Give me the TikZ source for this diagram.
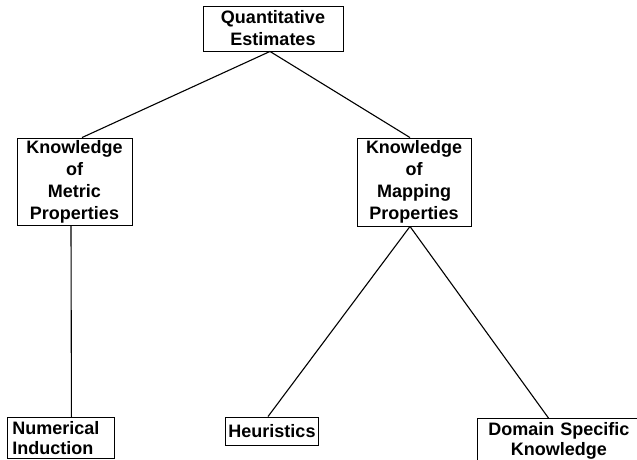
\documentclass[tikz,border=0pt]{standalone}
\usepackage{fontspec}
\setmainfont{Liberation Sans}
\begin{document}
\begin{tikzpicture}[x=1pt,y=-1pt,
 box/.style={draw,line width=.9pt,inner sep=0pt,align=center,
  font=\fontsize{18}{22}\selectfont\bfseries},
 tight/.style={font=\fontsize{18}{20}\selectfont\bfseries},
 link/.style={line width=1.1pt}]
 \useasboundingbox (0,0) rectangle (637,459);
 \path
 (273,28.5) node[box,minimum width=140,minimum height=45] (Q)
  {Quantitative\\Estimates} % <<< tầng 1
 (74.5,181.5) node[box,minimum width=115,minimum height=87] (M)
  {Knowledge\\of\\Metric\\Properties} % <<< tầng 2
 (414,182) node[box,minimum width=114,minimum height=88] (P)
  {Knowledge\\of\\Mapping\\Properties}
 (7,417) node[box,tight,anchor=north west,align=left,text width=97,
  inner xsep=5pt,minimum height=41] (N) {Numerical\\Induction} % <<< tầng 3
 (272,431) node[box,minimum width=93,minimum height=28] (H) {Heuristics}
 (477,418) node[box,tight,anchor=north west,text width=147,inner xsep=8pt,
  inner ysep=4pt] (D) {Domain Specific\\Knowledge};
 \begin{scope}[link]
 \draw ([xshift=-3pt]Q.south)--([xshift=7.5pt]M.north);
 \draw ([xshift=-3pt]Q.south)--([xshift=-4pt]P.north);
 \draw ([xshift=-3.5pt]M.south)--([xshift=10.5pt]N.north);
 \draw ([xshift=-4pt]P.south)--([xshift=-4pt]H.north);
 \draw ([xshift=-4pt]P.south)--([xshift=-10.5pt]D.north);
 \end{scope}
\end{tikzpicture}
\end{document}
